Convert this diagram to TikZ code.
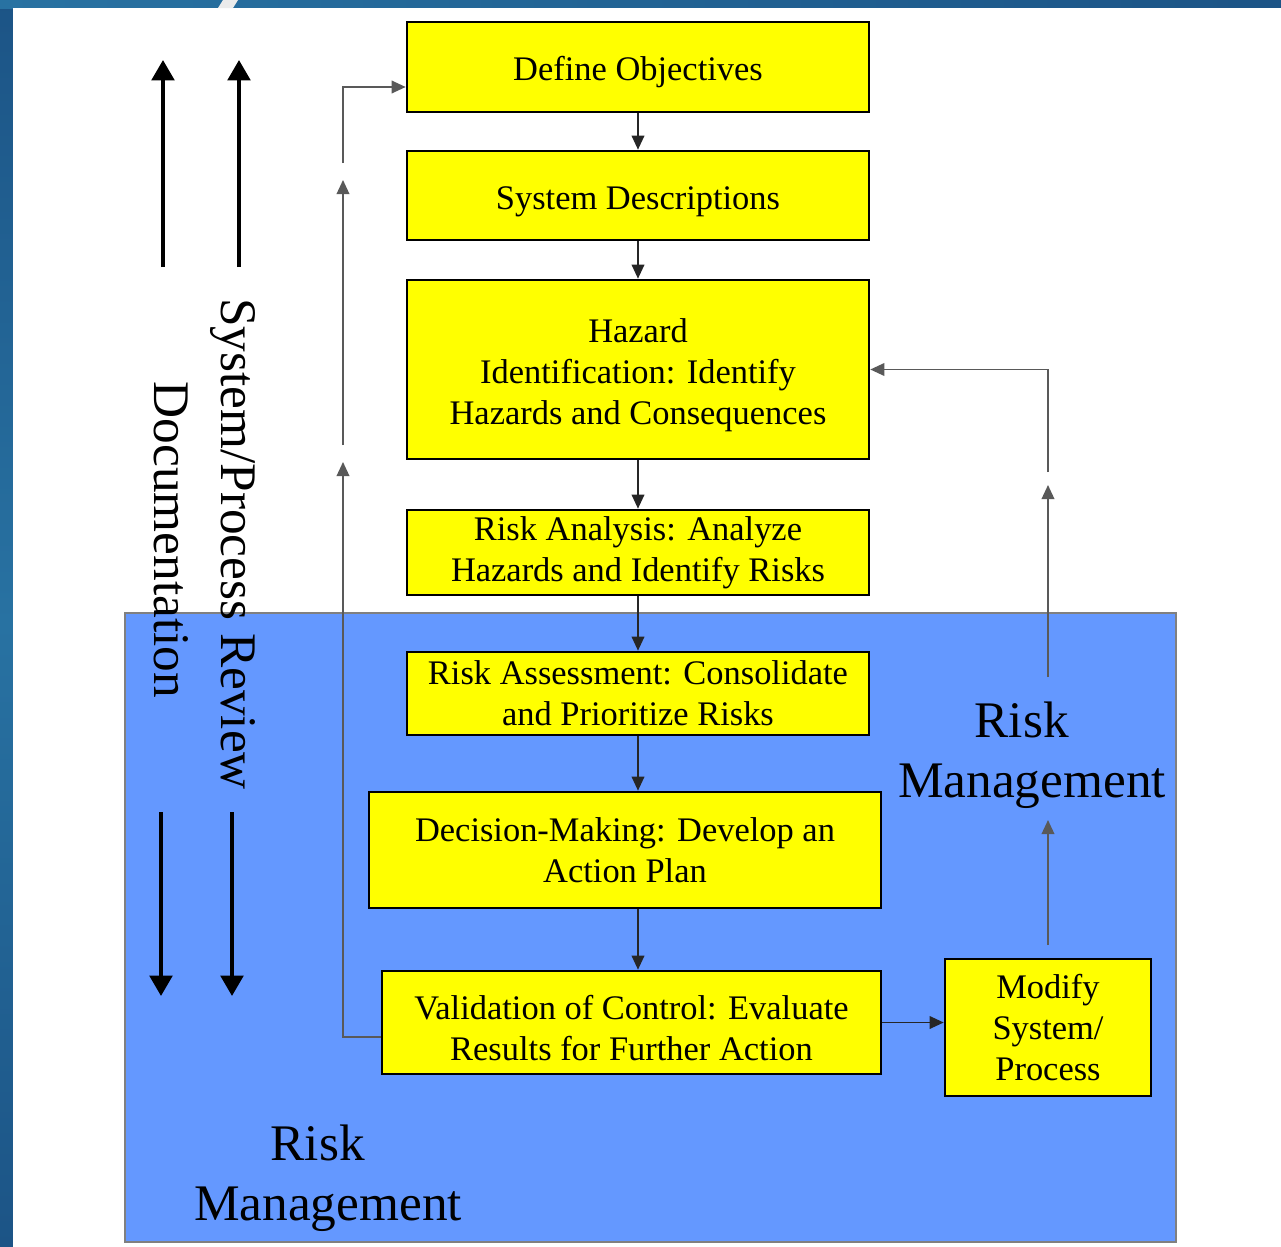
\documentclass[tikz,border=0pt]{standalone}
\usepackage{fontspec}
\setmainfont{Liberation Serif}
\usepackage{xcolor}
\usepackage{tikz}
\usetikzlibrary{arrows.meta,calc}
\definecolor{frameblue}{RGB}{28,84,134}
\definecolor{framelight}{RGB}{40,114,162}
\definecolor{rmblue}{RGB}{100,152,255}
\definecolor{boxyellow}{RGB}{255,255,0}
\newcommand{\lowline}{\rule{0pt}{10pt}}

\begin{document}
\begin{tikzpicture}[>={Triangle[length=4pt,width=3.6pt]},
box/.style={draw=black,line width=0.75pt,fill=boxyellow,inner sep=0pt,align=center,font=\fontsize{9.8}{11.7}\selectfont},
link/.style={->,draw=black!85,line width=0.45pt},
fb/.style={->,draw=black!65,line width=0.45pt},
bigarrow/.style={-{Triangle[length=5.8pt,width=6.4pt]},line width=1.1pt},
bigtext/.style={align=center,font=\fontsize{14.6}{17.1}\selectfont}]
% frame
\shade[top color=frameblue,bottom color=frameblue,middle color=framelight](0,0)rectangle(0.13,-12.47);
\shade[left color=framelight,right color=frameblue](0,0)rectangle(12.81,-0.08);
\fill[white](0.13,-0.08)rectangle(12.81,-12.47);
\fill[black!8](2.18,-0.08)--(2.23,0)--(2.38,0)--(2.33,-0.08)--cycle;
% risk management area
\draw[draw=black!50,fill=rmblue,line width=0.4pt](1.25,-6.13)rectangle(11.76,-12.42);
% steps
\node[box,minimum width=4.62cm,minimum height=0.90cm](def)at(6.38,-0.67){\lowline Define Objectives};
\node[box,minimum width=4.62cm,minimum height=0.89cm](sys)at(6.38,-1.955){\lowline System Descriptions};
\node[box,minimum width=4.62cm,minimum height=1.79cm](haz)at(6.38,-3.695){\lowline Hazard\\Identification: Identify\\Hazards and Consequences};
\node[box,minimum width=4.62cm,minimum height=0.85cm](ana)at(6.38,-5.525){Risk Analysis: Analyze\\Hazards and Identify Risks};
\node[box,minimum width=4.62cm,minimum height=0.83cm](ass)at(6.38,-6.935){Risk Assessment: Consolidate\\and Prioritize Risks};
\node[box,minimum width=5.12cm,minimum height=1.16cm](dec)at(6.25,-8.50){Decision-Making: Develop an\\Action Plan};
\node[box,minimum width=4.99cm,minimum height=1.03cm](val)at(6.315,-10.225){\lowline Validation of Control: Evaluate\\Results for Further Action};
\node[box,minimum width=2.06cm,minimum height=1.37cm](mod)at(10.48,-10.275){Modify\\System/\\Process};
\draw[link](def)--(sys);
\draw[link](sys)--(haz);
\draw[link](haz)--(ana);
\draw[link](ana)--(ass);
\draw[link](ass.south)--(ass.south|-dec.north);
\draw[link](dec.south-|ass.south)--(ass.south|-val.north);
\draw[link](val.east)--(val.east-|mod.west);
% feedback, left
\coordinate(l1)at(3.43,-4.62);
\coordinate(l2)at(3.43,-4.45);
\coordinate(l3)at(3.43,-1.80);
\coordinate(l4)at(3.43,-1.63);
\draw[fb]([yshift=-1.45mm]val.west)-|(l1);
\draw[fb](l2)--(l3);
\draw[fb](l4)|-([yshift=-2mm]def.west);
% feedback, right
\coordinate(r1)at(10.48,-8.20);
\coordinate(r2)at(10.48,-6.77);
\coordinate(r3)at(10.48,-4.85);
\coordinate(r4)at(10.48,-4.72);
\draw[fb]([yshift=1.25mm]mod.north)--(r1);
\draw[fb](r2)--(r3);
\draw[fb](r4)|-(haz.east);
% side arrows
\foreach \x in {1.63,2.39}\draw[bigarrow](\x,-2.67)--(\x,-0.60);
\foreach \x in {1.61,2.32}\draw[bigarrow](\x,-8.12)--(\x,-9.96);
\node[bigtext,rotate=-90](rev)at(2.33,-5.44){System/Process Review};
\node[bigtext,rotate=-90](doc)at(1.71,-5.40){Documentation};
\node[bigtext](rmr)at(10.32,-7.55){Risk\kern0.4em\\Management};
\node[bigtext](rml)at(3.28,-11.78){Risk\kern0.4em\\Management};
\end{tikzpicture}
\end{document}
